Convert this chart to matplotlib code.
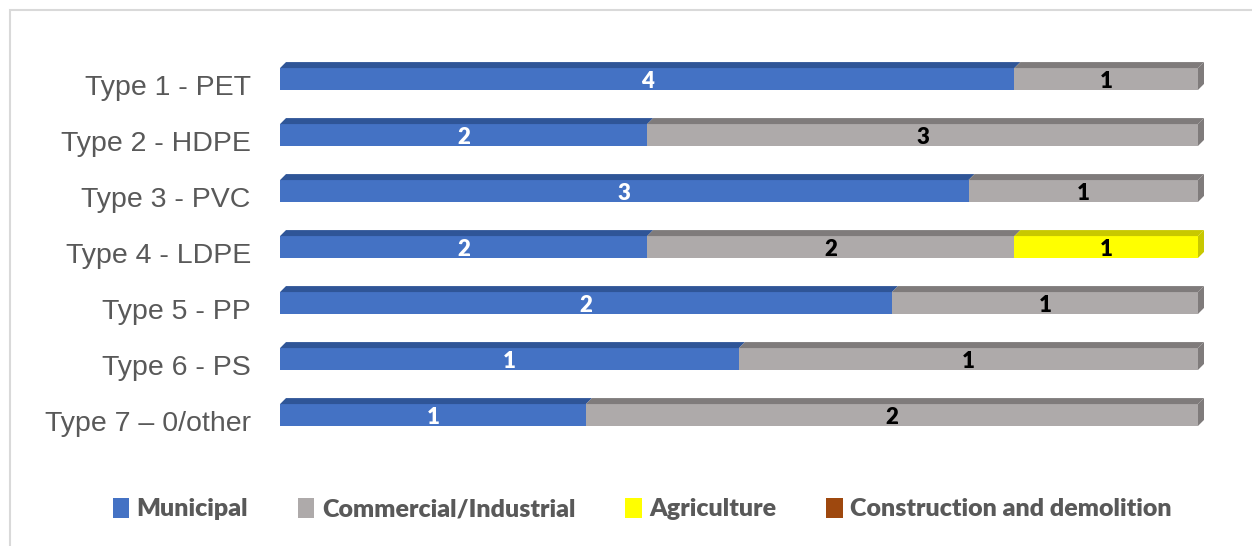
import numpy as np
import matplotlib.pyplot as plt
from matplotlib.patches import Polygon, Rectangle, Patch

categories = ["Type 1 - PET", "Type 2 - HDPE", "Type 3 - PVC", "Type 4 - LDPE",
              "Type 5 - PP", "Type 6 - PS", "Type 7 \u2013 0/other"]
municipal = [4, 2, 3, 2, 2, 1, 1]
commercial = [1, 3, 1, 2, 1, 1, 2]
agriculture = [0, 0, 0, 1, 0, 0, 0]
construction = [0, 0, 0, 0, 0, 0, 0]

series = ["Municipal", "Commercial/Industrial", "Agriculture", "Construction and demolition"]
front = ["#4472C4", "#AEAAAA", "#FFFF00", "#9E480E"]
top = ["#2F5597", "#7F7B7B", "#C8C800", "#6E320A"]
label_col = ["white", "black", "black", "white"]

data = np.array([municipal, commercial, agriculture, construction], dtype=float)
totals = data.sum(axis=0)
share = data / totals

fig = plt.figure(figsize=(12.52, 5.46), dpi=100)
W, H = 1252, 546

# chart border
fig.patches.append(Rectangle((10 / W, -0.1), 1.2, 1 - 10 / H + 0.1, transform=fig.transFigure,
                             fill=False, edgecolor="#D9D9D9", linewidth=1.5))

ax = fig.add_axes([280 / W, 1 - 443 / H, 918 / W, 392 / H])
ax.set_xlim(0, 1)
ax.set_ylim(6.5, -0.5)
for s in ax.spines.values():
    s.set_visible(False)
ax.set_xticks([])
y = np.arange(len(categories))
ax.set_yticks(y + 0.1)
ax.set_yticklabels(categories, fontsize=20.5, color="#595959", family="Liberation Sans")
ax.tick_params(axis="y", length=0, pad=21)

bh = 0.39
dx = 6 / 918
dy = 6 / 56

left = np.zeros(len(categories))
for k in range(len(series)):
    w = share[k]
    for i in range(len(categories)):
        if w[i] <= 0:
            continue
        x0, x1 = left[i], left[i] + w[i]
        yt = y[i] - bh / 2
        ax.add_patch(Rectangle((x0, yt), w[i], bh, facecolor=front[k], edgecolor="none"))
        ax.add_patch(Polygon([(x0, yt), (x0 + dx, yt - dy), (x1 + dx, yt - dy), (x1, yt)],
                             facecolor=top[k], edgecolor="none", clip_on=False))
        ax.text((x0 + x1) / 2, y[i] + 0.05, "%d" % data[k][i], ha="center", va="center",
                fontsize=16, fontweight="heavy", color=label_col[k], family="Lato")
    left += w

# right side face on the last segment
for i in range(len(categories)):
    last = max(k for k in range(len(series)) if data[k][i] > 0)
    yt = y[i] - bh / 2
    ax.add_patch(Polygon([(1, yt), (1 + dx, yt - dy), (1 + dx, yt + bh - dy), (1, yt + bh)],
                         facecolor=top[last], edgecolor="none", clip_on=False))

handles = [Patch(facecolor=c, edgecolor="none") for c in front]
leg = fig.legend(handles, series, ncol=4, loc="center", bbox_to_anchor=(0.513, 1 - 509 / H),
                 frameon=False, handlelength=0.65, handleheight=0.85, handletextpad=0.3,
                 columnspacing=2.0, prop={"family": "Lato", "weight": "heavy", "size": 18})
for t in leg.get_texts():
    t.set_color("#595959")

fig.savefig("out.png", dpi=100)
